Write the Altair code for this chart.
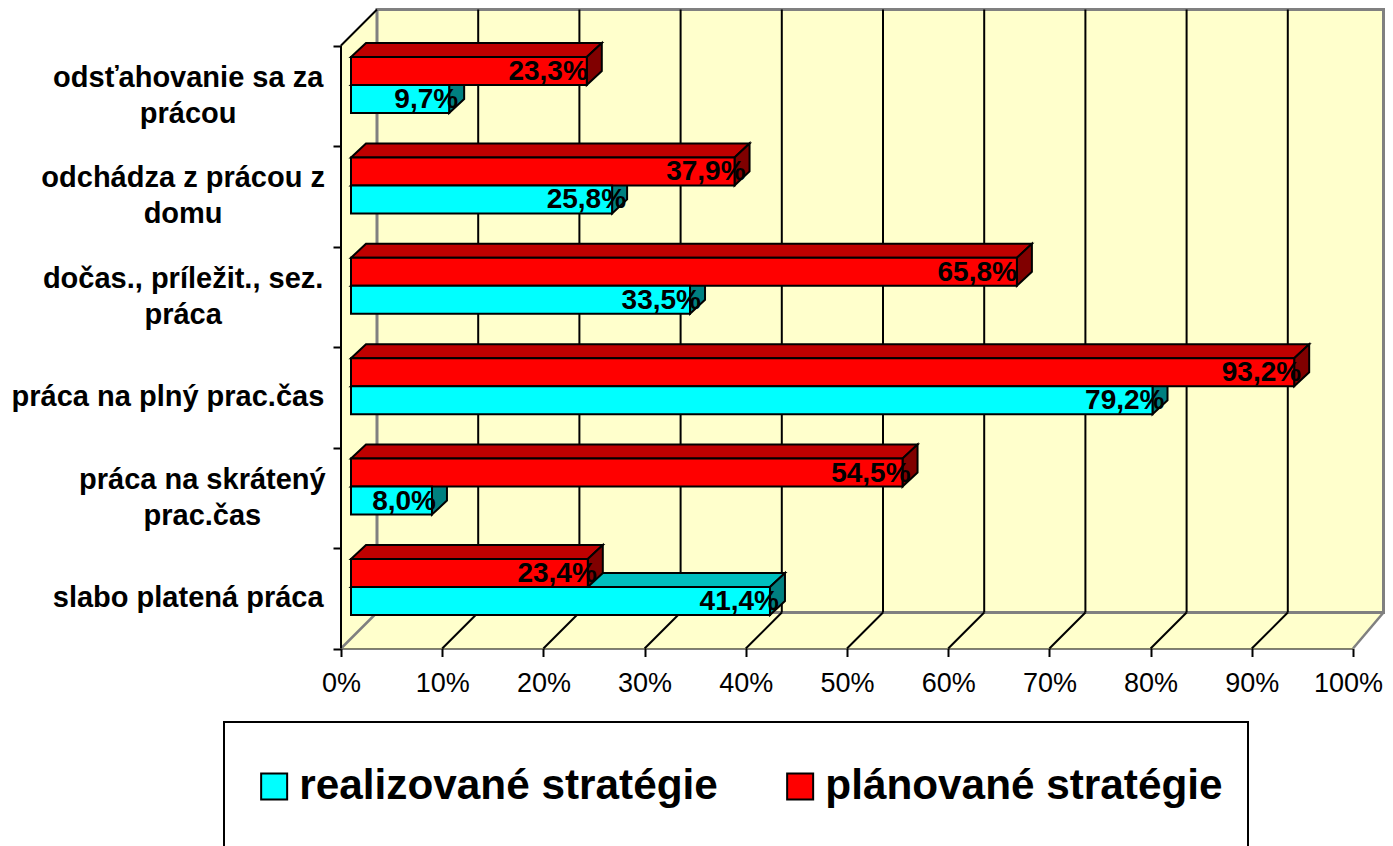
import altair as alt
import pandas as pd

# ---- values (top to bottom on the chart) ----
categories = [
    "odsťahovanie sa za\nprácou",
    "odchádza z prácou z\ndomu",
    "dočas., príležit., sez.\npráca",
    "práca na plný prac.čas",
    "práca na skrátený\nprac.čas",
    "slabo platená práca",
]
planned = [23.3, 37.9, 65.8, 93.2, 54.5, 23.4]
realized = [9.7, 25.8, 33.5, 79.2, 8.0, 41.4]
series_names = ["realizované stratégie", "plánované stratégie"]
x_ticks = list(range(0, 101, 10))
y_ticks = list(range(0, 7))

# ---- layout helpers, separate from the values ----
label_centers = [15.1, 15.6, 15.6, 17.1, 13.7, 15.1]  # x-scale units left of the axis
planned_overhang = [1, 11, 0, 7, 8, 9]                # how far a value label runs past its bar
realized_overhang = [9, 14, 11, 12, 4, 9]

PX = 10.12
PY = 100.5
WALL_DX, WALL_DY = 36 / PX, 36 / PY
WALL_RIGHT = (1383.5 - 341) / PX   # the picture ends at 1385, so the box closes just before it
BAR_OFF_X = 10 / PX
BAR_DX, BAR_DY = 15 / PX, 14 / PY
BAR_H = 28 / PY
SPLIT = 61.5 / PY  # split between the two bars in the lowest category
LINE_H = 36

W, H = 1377, 838


def sx(t):
    return t - 8


def sy(t):
    return t - 8


x_domain = [-sx(341) / PX, (W - sx(341)) / PX]
y_domain = [(sy(648.5) - H) / PY, sy(648.5) / PY]
x_scale = alt.Scale(domain=x_domain, nice=False, zero=False)
y_scale = alt.Scale(domain=y_domain, nice=False, zero=False)
FONT = "Liberation Sans"

axis_x = alt.Axis(
    values=x_ticks, offset=-(H - sy(648.5)), domain=False, grid=False, title=None, tickSize=8,
    tickWidth=2, tickColor="black", labelExpr="datum.value + '%'", labelFont=FONT,
    labelFontSize=27, labelColor="black", labelPadding=14, labelOverlap=False, labelFlush=False,
    labelOffset={"condition": {"test": "datum.value === 100", "value": -5}, "value": 0},
)
axis_y = alt.Axis(
    values=y_ticks, offset=-sx(341), domain=False, grid=False, title=None, tickSize=8, tickWidth=2,
    tickColor="black", labels=False,
)


def X(f):
    return alt.X(f, type="quantitative", scale=x_scale, axis=axis_x, stack=None)


def Y(f):
    return alt.Y(f, type="quantitative", scale=y_scale, axis=axis_y, stack=None)


def base(rows):
    return alt.Chart(pd.DataFrame(rows))


# ---- bar table ----
bars = []
for i in range(6):
    low = (5 - i) * 0.999 + SPLIT
    bars.append(dict(series=series_names[1], v=planned[i], y0=low, y1=low + BAR_H, n=i,
                     over=planned_overhang[i]))
    bars.append(dict(series=series_names[0], v=realized[i], y0=low - BAR_H, y1=low, n=i,
                     over=realized_overhang[i]))
for b in bars:
    b["x0"] = BAR_OFF_X
    b["x1"] = BAR_OFF_X + b["v"]
    b["label"] = f"{b['v']:.1f}".replace(".", ",") + "%"
    b["ymid"] = (b["y0"] + b["y1"]) / 2
    b["tx"] = b["x1"] + b["over"] / PX


def top_rows(name):
    rows = []
    for b in bars:
        if b["series"] == name:
            rows.append(dict(n=b["n"], y=b["y1"], a=b["x0"], c=b["x1"]))
            rows.append(dict(n=b["n"], y=b["y1"] + BAR_DY, a=b["x0"] + BAR_DX, c=b["x1"] + BAR_DX))
    return rows


def side_rows(name):
    rows = []
    for b in bars:
        if b["series"] == name:
            rows.append(dict(n=b["n"], x=b["x1"], a=b["y0"], c=b["y1"]))
            rows.append(dict(n=b["n"], x=b["x1"] + BAR_DX, a=b["y0"] + BAR_DY, c=b["y1"] + BAR_DY))
    return rows


def top_face(name, color):
    return base(top_rows(name)).mark_area(
        orient="horizontal", fill=color, stroke="black", strokeWidth=2, opacity=1
    ).encode(y=Y("y"), x=X("a"), x2="c:Q", detail="n:N")


def side_face(name, color):
    return base(side_rows(name)).mark_area(
        orient="vertical", fill=color, stroke="black", strokeWidth=2, opacity=1
    ).encode(x=X("x"), y=Y("a"), y2="c:Q", detail="n:N")


# ---- walls ----
back_wall = base([dict(a=WALL_DX, c=WALL_RIGHT, b=WALL_DY, d=6 + WALL_DY)]).mark_rect(
    fill="#FFFFCC", stroke="#808080", strokeWidth=3
).encode(x=X("a"), x2="c:Q", y=Y("b"), y2="d:Q")

left_wall = base([
    dict(x=0, a=0, c=6), dict(x=WALL_DX, a=WALL_DY, c=6 + WALL_DY)
]).mark_area(orient="vertical", fill="#FFFFCC", opacity=1).encode(x=X("x"), y=Y("a"), y2="c:Q")

floor = base([
    dict(y=0, a=0, c=100), dict(y=WALL_DY, a=WALL_DX, c=WALL_RIGHT)
]).mark_area(orient="horizontal", fill="#FFFFCC", opacity=1).encode(y=Y("y"), x=X("a"), x2="c:Q")

grid_rows = [dict(x=p + WALL_DX, a=WALL_DY, c=6 + WALL_DY) for p in x_ticks[1:-1]]
grid = base(grid_rows).mark_rule(color="black", strokeWidth=2).encode(x=X("x"), y=Y("a"), y2="c:Q")

diag_grid, diag_edge = [], []
for p in x_ticks:
    target = diag_edge if p in (0, 100) else diag_grid
    target.append(dict(k=p, x=p, y=0))
    target.append(dict(k=p, x=min(p + WALL_DX, WALL_RIGHT), y=WALL_DY))
diag = base(diag_grid).mark_line(color="black", strokeWidth=2).encode(x=X("x"), y=Y("y"), detail="k:N")
diag_e = base(diag_edge).mark_line(color="#808080", strokeWidth=2.5).encode(x=X("x"), y=Y("y"), detail="k:N")
corner = base([dict(x=0, y=6), dict(x=WALL_DX, y=6 + WALL_DY)]).mark_line(
    color="black", strokeWidth=2
).encode(x=X("x"), y=Y("y"))

frame_x = base([dict(a=0, c=100, y=0)]).mark_rule(color="black", strokeWidth=2).encode(
    x=X("a"), x2="c:Q", y=Y("y")
)
frame_y = base([dict(x=0, a=0, c=6)]).mark_rule(color="black", strokeWidth=2).encode(
    x=X("x"), y=Y("a"), y2="c:Q"
)

# ---- front faces carry the legend ----
fronts = base(bars).mark_rect(stroke="black", strokeWidth=2).encode(
    x=X("x0"), x2="x1:Q", y=Y("y0"), y2="y1:Q",
    fill=alt.Fill(
        "series:N",
        scale=alt.Scale(domain=series_names, range=["#00FFFF", "#FF0000"]),
        legend=alt.Legend(
            orient="none", legendX=245, legendY=757, direction="horizontal", columns=2,
            title=None, symbolType="square", symbolSize=676, symbolStrokeColor="black",
            symbolStrokeWidth=2, labelFont=FONT, labelFontSize=42.3, labelFontWeight="bold",
            labelColor="black", labelOffset=4, columnPadding=61, labelLimit=700,
        ),
    ),
)

# ---- value labels ----
values = base(bars).mark_text(
    align="right", baseline="middle", font=FONT, fontSize=28, fontWeight="bold", color="black", dy=1
).encode(x=X("tx"), y=Y("ymid"), text="label:N")

# ---- category labels: a wrapped label is anchored on its first line, so lift it half a line ----
cat_rows = [
    dict(t=c, x=-l, y=5.5 - i + (LINE_H / 2 / PY if "\n" in c else 0))
    for i, (c, l) in enumerate(zip(categories, label_centers))
]
cat_labels = base(cat_rows).mark_text(
    align="center", baseline="middle", lineBreak="\n", lineHeight=LINE_H, font=FONT, fontSize=29,
    fontWeight="bold", color="black"
).encode(x=X("x"), y=Y("y"), text="t:N")

# ---- legend frame ----
legend_box = base([dict(k=1)]).mark_rect(fill="white", stroke="black", strokeWidth=2).encode(
    x=alt.value(sx(224)), x2=alt.value(sx(1248)), y=alt.value(sy(722)), y2=alt.value(900)
)

chart = alt.layer(
    frame_x, legend_box, left_wall, floor, back_wall, grid, diag, diag_e, corner, frame_y,
    top_face(series_names[0], "#00BFBF"), side_face(series_names[0], "#008080"),
    top_face(series_names[1], "#BF0000"), side_face(series_names[1], "#800000"),
    fronts, values, cat_labels,
).properties(
    width=W, height=H, padding=0, autosize=alt.AutoSizeParams(type="none"), background="white"
).configure_view(stroke=None)

chart.save("out.html", embed_options={"renderer": "svg", "actions": False})
